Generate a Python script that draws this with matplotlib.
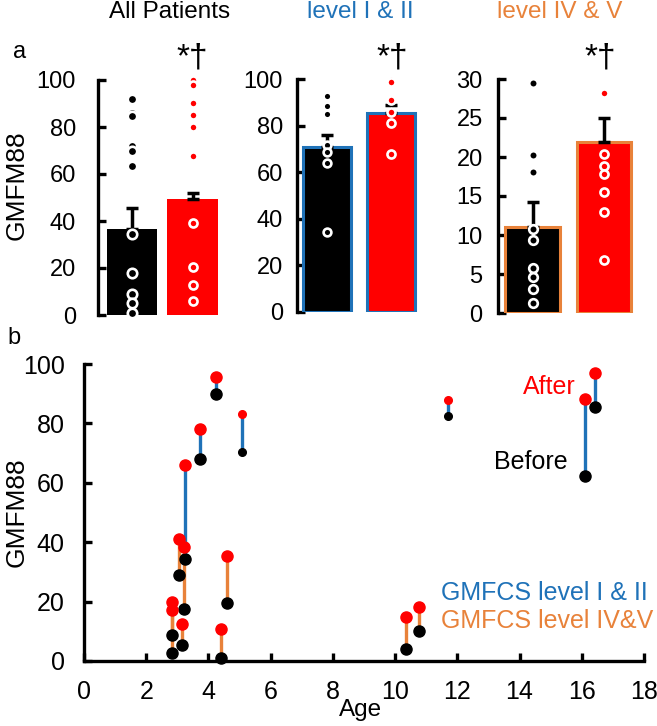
import matplotlib
matplotlib.use('Agg')
import matplotlib.pyplot as plt
import numpy as np

plt.rcParams['font.family'] = ['Liberation Sans', 'DejaVu Sans']

BLUE = '#1f72b8'
ORANGE = '#e8823a'
RED = '#ff0000'

# panel a: bar means, upper error and individual values (before / after)
groups = ['All Patients', 'level I & II', 'level IV & V']
bar_before = [36.6, 71.0, 10.97]
bar_after = [49.2, 85.6, 21.9]
err_before = [8.8, 5.0, 3.2]
err_after = [2.7, 3.2, 3.15]
dots_before = [
    [92.1, 85.8, 84.7, 72.1, 69.9, 63.5, 34.3, 17.7, 8.9, 5.2, 0.7],
    [92.9, 88.4, 85.1, 71.5, 68.5, 63.9, 34.3],
    [29.5, 20.2, 18.1, 10.8, 9.3, 5.8, 4.6, 3.1, 1.3],
]
dots_after = [
    [99.8, 97.9, 90.4, 85.0, 80.1, 67.7, 39.0, 20.3, 12.8, 6.1],
    [99.6, 98.9, 91.0, 86.0, 81.0, 67.9],
    [28.2, 20.4, 18.9, 17.8, 15.5, 13.0, 6.8],
]
ylim_a = [100, 100, 30]
yticks_a = [[0, 20, 40, 60, 80, 100], [0, 20, 40, 60, 80, 100], [0, 5, 10, 15, 20, 25, 30]]

# panel b: age and GMFM88 before / after for each patient
age_12 = [4.23, 5.08, 3.74, 3.24, 11.69, 16.10, 16.43]
before_12 = [89.8, 70.3, 68.0, 34.2, 82.6, 62.3, 85.4]
after_12 = [95.5, 83.1, 78.2, 66.1, 87.9, 88.1, 97.1]
age_45 = [3.05, 3.20, 2.83, 2.83, 3.16, 4.61, 4.39, 10.34, 10.76]
before_45 = [28.8, 17.6, 8.75, 2.6, 5.3, 19.6, 0.9, 4.0, 10.2]
after_45 = [41.0, 38.5, 20.0, 17.2, 12.5, 35.5, 10.7, 14.9, 18.1]

W, H = 657, 726
fig = plt.figure(figsize=(W / 100, H / 100), dpi=100)


def add_ax(l, r, top, bottom):
    return fig.add_axes([l / W, 1 - bottom / H, (r - l) / W, (bottom - top) / H])


# px boxes, xlim and bar width for each small panel
boxes = [(98, 225, 80, 315), (297, 425, 79, 312), (498, 640, 79, 313)]
xlims = [(-0.562, 1.537), (-0.469, 1.53), (-0.485, 1.507)]
widths = [0.83, 0.74, 0.76]
edges = [None, BLUE, ORANGE]
title_col = ['black', BLUE, ORANGE]
title_x = [170, 360, 560]
mark_x = [192, 392, 600]
pads = [16, 10, 11]
above_ms = [6.8, 5.6, 6.2]

for i in range(3):
    ax = add_ax(*boxes[i])
    w = widths[i]
    ec = edges[i]
    lw = 2.2 if ec else 0
    ax.bar(0, bar_before[i], width=w, color='black', edgecolor=ec or 'black',
           linewidth=lw, zorder=2)
    ax.bar(1, bar_after[i], width=w, color=RED, edgecolor=ec or RED,
           linewidth=lw, zorder=2)
    ax.errorbar([0], [bar_before[i]], yerr=[[0], [err_before[i]]], fmt='none',
                ecolor='black', elinewidth=2.5, capsize=4, capthick=2.5, zorder=3)
    ax.errorbar([1], [bar_after[i]], yerr=[[0], [err_after[i]]], fmt='none',
                ecolor='black', elinewidth=2.5, capsize=4, capthick=2.5, zorder=3)
    ax.plot(np.zeros(len(dots_before[i])), dots_before[i], 'o', ms=above_ms[i],
            mfc='black', mec='white', mew=1.9, zorder=4, clip_on=False)
    ax.plot(np.ones(len(dots_after[i])), dots_after[i], 'o', ms=5.8,
            mfc=RED, mec='white', mew=1.9, zorder=4, clip_on=False)
    ax.set_xlim(*xlims[i])
    ax.set_ylim(0, ylim_a[i])
    ax.set_yticks(yticks_a[i])
    ax.set_xticks([])
    for s in ['top', 'right', 'bottom']:
        ax.spines[s].set_visible(False)
    ax.spines['left'].set_linewidth(2.4)
    ax.tick_params(axis='y', direction='in', length=6, width=2.4,
                   labelsize=17, pad=pads[i])
    ax.patch.set_alpha(0)
    fig.text(title_x[i] / W, 1 - 12 / H, groups[i], color=title_col[i],
             fontsize=17.5, ha='center', va='center')
    fig.text(mark_x[i] / W, 1 - 58 / H, '*\u2020', fontsize=24,
             ha='center', va='center')

fig.text(20 / W, 1 - 52 / H, 'a', fontsize=17, ha='center', va='center')
fig.text(17 / W, 1 - 185 / H, 'GMFM88', fontsize=19, rotation=90,
         ha='center', va='center')

# panel b
axb = add_ax(84, 644, 364, 661)
for a, b, c in zip(age_45, before_45, after_45):
    axb.plot([a, a], [b, c], color=ORANGE, lw=2.4, zorder=1)
for a, b, c in zip(age_12, before_12, after_12):
    axb.plot([a, a], [b, c], color=BLUE, lw=2.4, zorder=1)
small = {1, 4}
for j, (a, b, c) in enumerate(zip(age_12, before_12, after_12)):
    ms = 5.5 if j in small else 8
    axb.plot(a, b, 'o', color='black', ms=ms, zorder=3, clip_on=False)
    axb.plot(a, c, 'o', color=RED, ms=ms, zorder=3, clip_on=False)
axb.plot(age_45, before_45, 'o', color='black', ms=8, zorder=3, clip_on=False, ls='none')
axb.plot(age_45, after_45, 'o', color=RED, ms=8, zorder=3, clip_on=False, ls='none')

axb.set_xlim(0, 18)
axb.set_ylim(0, 100)
axb.set_xticks(range(0, 19, 2))
axb.set_yticks(range(0, 101, 20))
for s in ['top', 'right']:
    axb.spines[s].set_visible(False)
for s in ['left', 'bottom']:
    axb.spines[s].set_linewidth(2.4)
axb.tick_params(direction='in', length=6, width=2.4, labelsize=18)
axb.tick_params(axis='x', pad=14)
axb.tick_params(axis='y', pad=14)
axb.set_xlabel('Age', fontsize=17.5)
axb.xaxis.set_label_coords((361 - 84) / 560, -(699 - 661) / 297)
axb.patch.set_alpha(0)

axb.text(15.79, 92.3, 'After', color=RED, fontsize=18, ha='right', va='center')
axb.text(15.53, 67.0, 'Before', color='black', fontsize=18, ha='right', va='center')
axb.text(11.48, 22.9, 'GMFCS level I & II', color=BLUE, fontsize=18,
         ha='left', va='center')
axb.text(11.48, 13.6, 'GMFCS level IV&V', color=ORANGE, fontsize=18,
         ha='left', va='center')

fig.text(14 / W, 1 - 338 / H, 'b', fontsize=17, ha='center', va='center')
fig.text(17 / W, 1 - 512 / H, 'GMFM88', fontsize=19, rotation=90,
         ha='center', va='center')

fig.savefig('out.png', dpi=100)
